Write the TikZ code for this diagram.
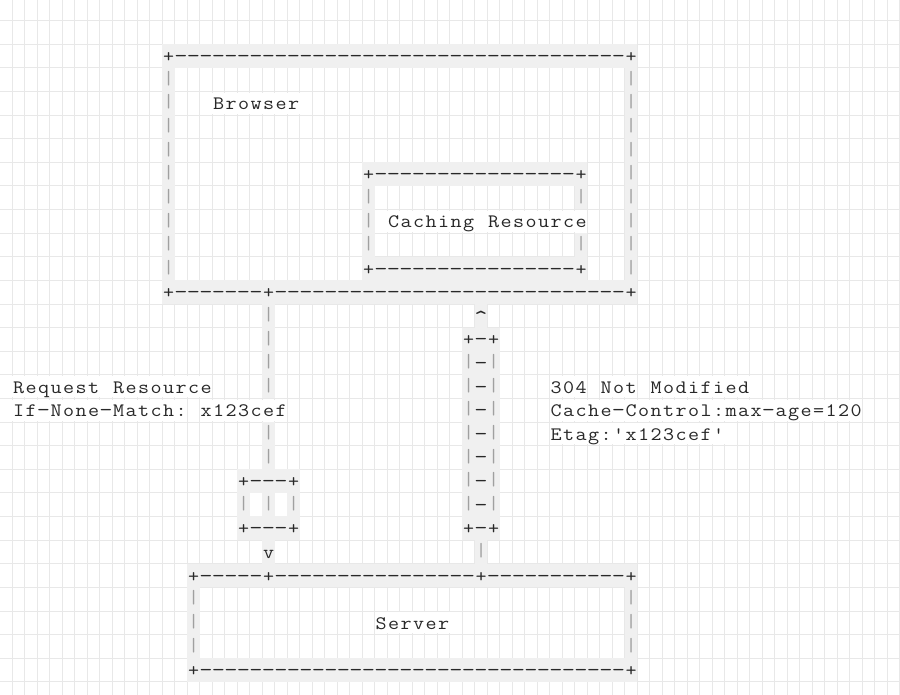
\documentclass[tikz,border=0pt]{standalone}
\definecolor{gridc}{RGB}{232,232,232}
\definecolor{artbg}{RGB}{240,240,240}
\definecolor{inkc}{RGB}{40,40,40}
\definecolor{barc}{RGB}{160,160,160}
\tikzset{
  cellbase/.style={inner sep=0pt, outer sep=0pt, minimum width=12.5pt,
    minimum height=23.615pt, text height=15pt, text depth=2pt,
    font=\fontsize{19}{19}\selectfont\ttfamily, anchor=center},
  art/.style={cellbase, fill=artbg, text=inkc},
  txt/.style={cellbase, minimum height=21pt, fill=white, text=inkc},
  barglyph/.style={text=barc, text height=11.5pt},
  gridline/.style={draw=gridc, line width=0.9pt}
}
\ExplSyntaxOn
\int_new:N \l_art_col_int
\cs_new:Npn \art_glyph:n #1
  {
    \str_case:nnF {#1}
      {
        {-} { \scalebox{1.35}[1.1]{#1} }
        {^} { \raisebox{-4pt}{\scalebox{1.3}{#1}} }
      }
      { \scalebox{1.13}[1]{#1} }
  }
\NewDocumentCommand \artrow { m m m m }
  {
    \int_set:Nn \l_art_col_int {#2}
    \str_map_inline:nn {#4}
      {
        \str_if_eq:nnF {##1} {~}
          {
            \str_if_eq:nnTF {##1} {|}
              {
                \node [#1, barglyph, name = c \int_use:N \l_art_col_int - #3]
                  ~at~ ( \int_use:N \l_art_col_int + 0.5 , #3 + 0.5 ) {\art_glyph:n {##1}};
              }
              {
                \node [#1, name = c \int_use:N \l_art_col_int - #3]
                  ~at~ ( \int_use:N \l_art_col_int + 0.5 , #3 + 0.5 ) {\art_glyph:n {##1}};
              }
          }
        \int_incr:N \l_art_col_int
      }
  }
\NewDocumentCommand \artdashes { m m m }
  {
    \int_step_inline:nnn {#2} {#3}
      { \artrow{art}{##1}{#1}{-} }
  }
\ExplSyntaxOff
\begin{document}
\begin{tikzpicture}[x=12.5pt,y=-23.615pt]
\useasboundingbox (0pt,0pt) rectangle (900pt,-695pt);
\clip (0pt,0pt) rectangle (900pt,-695pt);
\fill[white] (0pt,0pt) rectangle (900pt,-695pt);
\begin{scope}[shift={(-0.2pt,3.04pt)}]
  % background grid
  \foreach \j in {0,...,73} { \draw[gridline] (\j,-1) -- (\j,31); }
  \foreach \r in {0,...,30} { \draw[gridline] (-1,\r) -- (74,\r); }

  % Browser box
  \artrow{art}{13}{2}{+}\artdashes{2}{14}{49}\artrow{art}{50}{2}{+}
  \foreach \r in {3,...,11} { \artrow{art}{13}{\r}{|} \artrow{art}{50}{\r}{|} }
  \artrow{txt}{17}{4}{Browser}
  \artrow{art}{13}{12}{+}\artdashes{12}{14}{20}\artrow{art}{21}{12}{+}
  \artdashes{12}{22}{49}\artrow{art}{50}{12}{+}

  % Caching Resource box
  \artrow{art}{29}{7}{+}\artdashes{7}{30}{45}\artrow{art}{46}{7}{+}
  \artrow{art}{29}{8}{|}\artrow{art}{46}{8}{|}
  \artrow{art}{29}{9}{|}
  \artrow{txt}{31}{9}{Caching Resource}
  \artrow{art}{29}{10}{|}\artrow{art}{46}{10}{|}
  \artrow{art}{29}{11}{+}\artdashes{11}{30}{45}\artrow{art}{46}{11}{+}

  % request connector (down)
  \foreach \r in {13,14,15,16,18,19} { \artrow{art}{21}{\r}{|} }
  \artrow{art}{19}{20}{+---+}
  \artrow{art}{19}{21}{| | |}
  \artrow{art}{19}{22}{+---+}
  \artrow{art}{21}{23}{v}
  \artrow{txt}{1}{16}{Request Resource}
  \artrow{txt}{1}{17}{If-None-Match: x123cef}

  % response connector (up)
  \artrow{art}{38}{13}{^}
  \artrow{art}{37}{14}{+-+}
  \foreach \r in {15,...,21} { \artrow{art}{37}{\r}{|-|} }
  \artrow{art}{37}{22}{+-+}
  \artrow{art}{38}{23}{|}
  \artrow{txt}{44}{16}{304 Not Modified}
  \artrow{txt}{44}{17}{Cache-Control:max-age=120}
  \artrow{txt}{44}{18}{Etag:'x123cef'}

  % Server box
  \artrow{art}{15}{24}{+}\artdashes{24}{16}{20}\artrow{art}{21}{24}{+}
  \artdashes{24}{22}{37}\artrow{art}{38}{24}{+}
  \artdashes{24}{39}{49}\artrow{art}{50}{24}{+}
  \foreach \r in {25,...,27} { \artrow{art}{15}{\r}{|} \artrow{art}{50}{\r}{|} }
  \artrow{txt}{30}{26}{Server}
  \artrow{art}{15}{28}{+}\artdashes{28}{16}{49}\artrow{art}{50}{28}{+}
\end{scope}
\end{tikzpicture}
\end{document}
